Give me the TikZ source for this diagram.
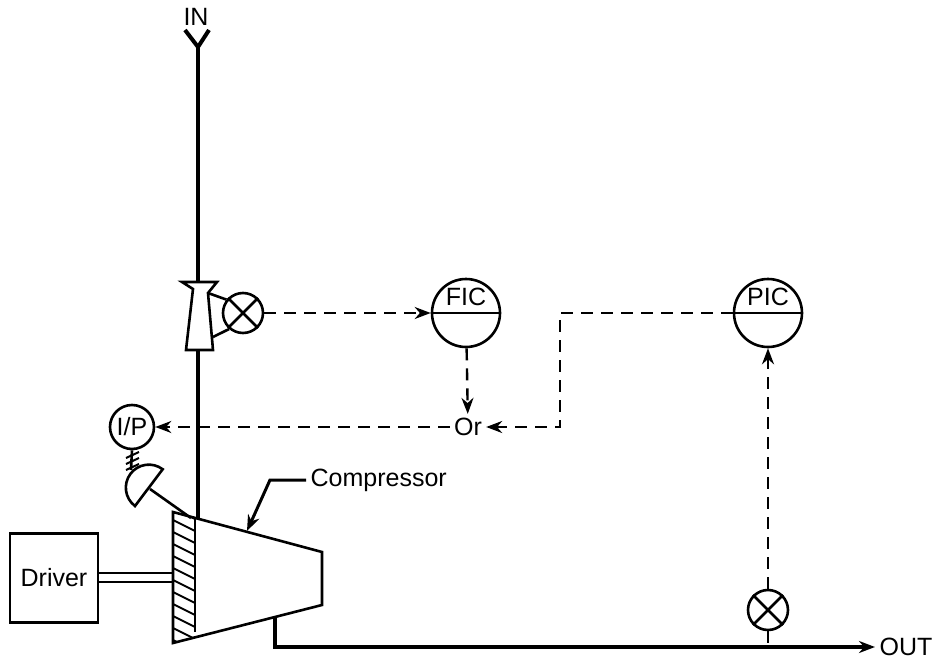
\documentclass[tikz,border=0pt]{standalone}
\usepackage{fontspec}
\setmainfont{Liberation Sans}
\usetikzlibrary{arrows.meta}
\tikzstyle{instr}=[circle, draw, line width=2.6pt, minimum size=68pt, inner sep=0pt]
\tikzstyle{elem}=[circle, draw, line width=2.6pt, minimum size=40pt, inner sep=0pt]
\tikzstyle{pipe}=[line width=4pt]
\tikzset{sig/.style={line width=2.4pt, dash pattern=on 12pt off 8pt},
  tip/.style={-{Stealth[length=16pt,width=12pt]}}}

\begin{document}
\begin{tikzpicture}[x=1pt, y=-1pt, line width=2.6pt, font=\fontsize{25}{29}\selectfont]
		\useasboundingbox (0,0) rectangle (935,661);
		% process line
		\node (in) at (196,17) {IN};
		\coordinate (inlet) at (198,47);
		\draw[pipe] (185,30) -- (inlet) -- (209,30);
		\coordinate (vtop) at (198,282);
		\coordinate (vbot) at (198,350);
		\draw[pipe] (inlet) -- (vtop);
		\draw (182,282) -- (217,282) -- (208,293) -- (213,350) -- (186,350) -- (193,289) -- cycle;
		\coordinate (cin) at (198,519);
		\draw[pipe] (vbot) -- (cin);
		% flow element
		\node[elem] (fe) at (243,313) {};
		\draw (fe.45) -- (fe.225) (fe.135) -- (fe.315);
		\draw (208,293) -- (fe.141);
		\draw (213,337) -- (fe.229);
		% controllers
		\node[instr] (fic) at (466,313) {};
		\draw (fic.west) -- (fic.east);
		\node at ([yshift=16pt]fic.center) {FIC};
		\node[instr] (pic) at (768,313) {};
		\draw (pic.west) -- (pic.east);
		\node at ([yshift=16pt]pic.center) {PIC};
		\node[inner sep=3pt] (or) at (468,427) {Or};
		\node[circle, draw, inner sep=0pt, minimum size=44pt] (ip) at (132,427) {I/P};
		\coordinate (jog) at (560,427);
		\draw[sig, tip] (fe) -- (fic);
		\draw[sig, tip] (fic) -- (or);
		\draw[sig, tip] (or) -- (ip);
		\draw[sig, tip] (pic.west) -| (jog) -- (or.east);
		% actuator
		\draw (ip.south) -- (131,470);
		\foreach \y in {455,461,467} \draw[line width=2pt] (126,\y+3) -- (139,\y-3);
		\draw (135,506) arc[start angle=127, end angle=307, radius=23] -- cycle;
		\draw (150,489) -- (191,518);
		% compressor
		\draw (173,512) -- (322,552) -- (322,605) -- (173,643) -- cycle;
		\begin{scope}
			\clip (173,512) -- (195,518) -- (195,637) -- (173,643) -- cycle;
			\foreach \y in {508,520,...,640} \draw[line width=2pt] (173,\y) -- (195,\y+11);
		\end{scope}
		\draw (195,518) -- (195,632);
		\node (comp) [anchor=west] at (306,480) {Compressor};
		\draw[tip, line width=3pt] (comp.west) -- (270,480) -- (247,531);
		% driver
		\node[draw, minimum width=88pt, minimum height=89pt] (driver) at (54,578) {Driver};
		\draw (driver.east |- 0,573) -- (173,573);
		\draw (driver.east |- 0,582) -- (173,582);
		% outlet
		\node (out) at (906,647) {OUT};
		\coordinate (cout) at (275,617);
		\draw[pipe, tip] (cout) |- (out.west);
		% pressure element
		\node[elem] (pe) at (768,610) {};
		\draw (pe.45) -- (pe.225) (pe.135) -- (pe.315);
		\draw[sig, tip] (pe) -- (pic);
		\draw[sig] (pe.south) -- (pe.south |- out.west);
\end{tikzpicture}
\end{document}
